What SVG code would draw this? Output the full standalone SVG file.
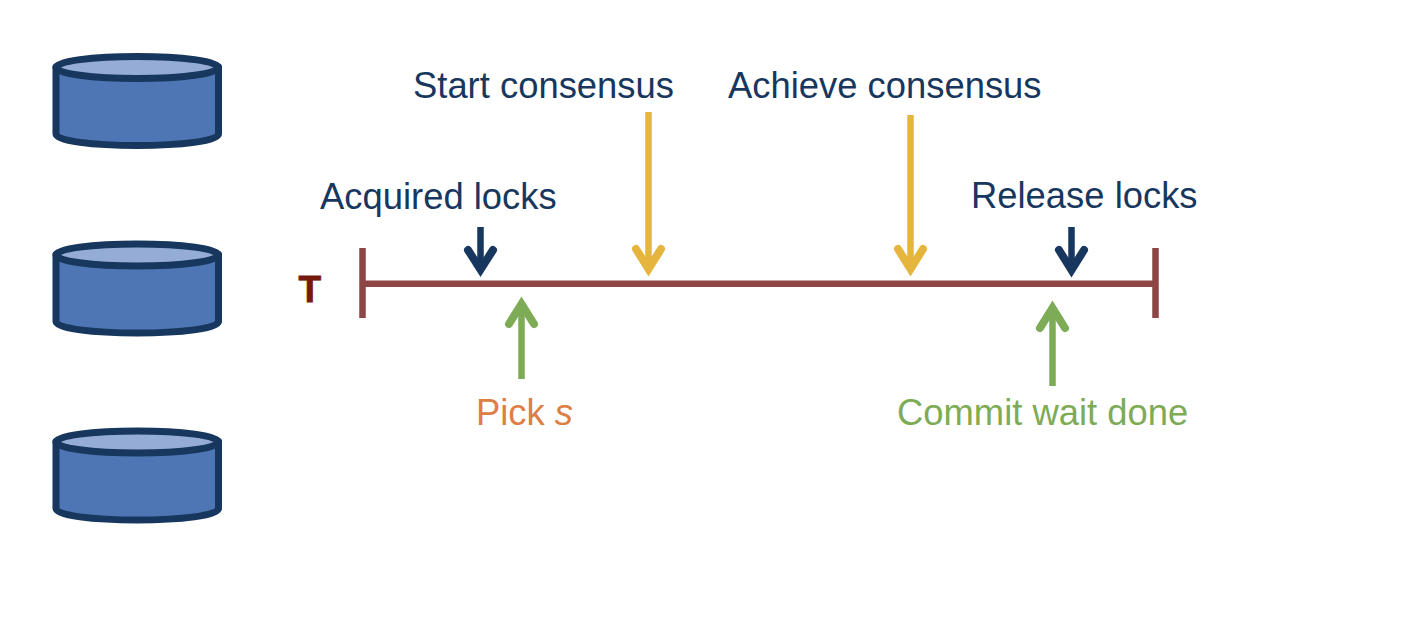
<svg xmlns="http://www.w3.org/2000/svg" width="1424" height="620" viewBox="0 0 1424 620">
<style>
text{font-family:"Liberation Sans",Arial,sans-serif;font-size:36.4px}
.navy{fill:#17375e}.green{fill:#7eab55}.orange{fill:#dd7e44}
.body{fill:#4f76b4;stroke:#17375e;stroke-width:7;stroke-linejoin:round}
.top{fill:#95add6;stroke:#17375e;stroke-width:7}
.tl{stroke:#8e4545;stroke-width:6.5;fill:none}
.a{fill:none;stroke-linecap:butt;stroke-width:6.5}
.h{fill:none;stroke-linecap:round;stroke-linejoin:miter;stroke-miterlimit:10;stroke-width:8}
.ny{stroke:#17375e}.yl{stroke:#e5b53e}.gr{stroke:#7eab55}
</style>
<defs>
<g id="cyl">
<path class="body" d="M56 67V134C56 141 93 145.500 137 145.500S218.500 141 218.500 134V67Z"/>
<ellipse class="top" cx="137.200" cy="67.400" rx="81.300" ry="11"/>
</g>
</defs>
<g id="db1"><use href="#cyl"/></g>
<g id="db2"><use href="#cyl" y="187.500"/></g>
<g id="db3"><use href="#cyl" y="374.500"/></g>
<g id="timeline">
<text x="298.500" y="302" style="font-weight:700;font-size:37px;fill:#741b0c;stroke:#741b0c;stroke-width:.8">T</text>
</g>
<g id="connectors">
<path class="tl" d="M362.500 248V318M362.500 283.700H1155.500M1155.500 248V318"/>
<path class="a ny" d="M480.500 227V268"/><path class="h ny" d="M468 250L480.500 269.500L493 250"/>
<path class="a yl" d="M648.500 112V268"/><path class="h yl" d="M636 249L648.500 269L661 249"/>
<path class="a yl" d="M910.500 115V268"/><path class="h yl" d="M898 249L910.500 269L923 249"/>
<path class="a ny" d="M1071.500 227V268"/><path class="h ny" d="M1059 250L1071.500 270L1084 250"/>
<path class="a gr" d="M521.500 379V308"/><path class="h gr" d="M509 324L521.500 304L534 324"/>
<path class="a gr" d="M1052.500 386V312"/><path class="h gr" d="M1040 328L1052.500 308L1065 328"/>
</g>
<g id="labels">
<text class="navy" x="413" y="98">Start consensus</text>
<text class="navy" x="728" y="98">Achieve consensus</text>
<text class="navy" x="320" y="209">Acquired locks</text>
<text class="navy" x="971" y="208">Release locks</text>
<text class="orange" x="476" y="425">Pick <tspan font-style="italic">s</tspan></text>
<text class="green" x="897" y="425">Commit wait done</text>
</g>
</svg>
